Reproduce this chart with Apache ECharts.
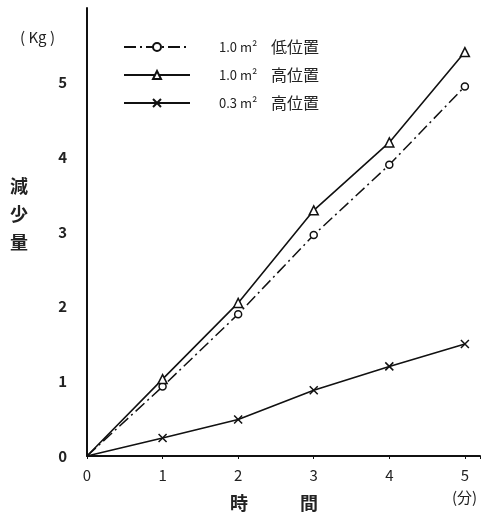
<!DOCTYPE html>
<html>
<head>
    <meta charset="utf-8">
    <title>減少量</title>
    <script src="https://cdn.jsdelivr.net/npm/echarts@6/dist/echarts.min.js"></script>
    <style>
        html, body { margin: 0; padding: 0; background: #fff; }
        #chart { width: 489px; height: 519px; }
    </style>
</head>
<body>
<div id="chart"></div>
<script>
    // 時間（分）
    var times = [0, 1, 2, 3, 4, 5];
    // 減少量（Kg）
    var low10 = [0, 0.93, 1.9, 2.96, 3.9, 4.95];   // 1.0m2 低位置
    var high10 = [0, 1.03, 2.05, 3.29, 4.2, 5.41]; // 1.0m2 高位置
    var high03 = [0, 0.24, 0.49, 0.88, 1.2, 1.5];  // 0.3m2 高位置
    var names = ['1.0 m² 低位置', '1.0 m² 高位置', '0.3 m² 高位置'];
    var yTicks = [0, 1, 2, 3, 4, 5];

    var cross = 'path://M0,0L10,10M10,0L0,10';

    function pts(ys) {
        return times.map(function (t, i) {
            var p = { value: [t, ys[i]] };
            if (t === 0) p.symbol = 'none';
            return p;
        });
    }

    var chart = echarts.init(document.getElementById('chart'));
    var font = '"Noto Sans CJK JP", "Noto Sans", sans-serif';

    chart.setOption({
        animation: false,
        textStyle: { fontFamily: font },
        grid: { left: 87, right: 9, top: 8, bottom: 63 },
        legend: {
            orient: 'vertical',
            left: 118, top: 34,
            itemWidth: 66, itemHeight: 10, itemGap: 12,
            textStyle: {
                color: '#222', padding: [0, 0, 0, 24],
                rich: {
                    n: { fontSize: 13, color: '#222', width: 52 },
                    c: { fontSize: 16, color: '#222' }
                }
            },
            formatter: function (name) {
                var k = name.lastIndexOf(' ');
                return '{n|' + name.slice(0, k) + '}{c|' + name.slice(k + 1) + '}';
            },
            data: names
        },
        xAxis: {
            type: 'value', min: 0, max: 5.2, interval: 1,
            axisLine: { lineStyle: { color: '#111', width: 2 } },
            axisTick: { show: true, inside: false, length: 3, lineStyle: { color: '#111' } },
            splitLine: { show: false },
            axisLabel: {
                margin: 12, fontSize: 15, color: '#222',
                formatter: function (v) { return times.indexOf(v) >= 0 ? String(v) : ''; }
            }
        },
        yAxis: {
            type: 'value', min: 0, max: 6, interval: 1,
            axisLine: { show: true, lineStyle: { color: '#111', width: 2 } },
            axisTick: { show: false },
            splitLine: { show: false },
            axisLabel: {
                margin: 20, fontSize: 15, color: '#222', fontWeight: 'bold',
                formatter: function (v) { return yTicks.indexOf(v) >= 0 ? String(v) : ''; }
            }
        },
        series: [
            {
                name: names[0], type: 'line', data: pts(low10),
                symbol: 'circle', symbolSize: 7,
                itemStyle: { color: '#fff', borderColor: '#111', borderWidth: 1.5 },
                lineStyle: { color: '#111', width: 1.5, type: [12, 4, 2, 4] }
            },
            {
                name: names[1], type: 'line', data: pts(high10),
                symbol: 'triangle', symbolSize: 9,
                itemStyle: { color: '#fff', borderColor: '#111', borderWidth: 1.5 },
                lineStyle: { color: '#111', width: 1.6 }
            },
            {
                name: names[2], type: 'line', data: pts(high03),
                symbol: cross, symbolSize: 8,
                itemStyle: { color: 'none', borderColor: '#111', borderWidth: 1.5 },
                lineStyle: { color: '#111', width: 1.6 }
            }
        ],
        graphic: [
            { type: 'text', left: 20, top: 30, style: { text: '( Kg )', fontSize: 15, fill: '#222', fontFamily: font } },
            { type: 'text', left: 10, top: 172, style: { text: '減\n少\n量', fontSize: 18, lineHeight: 28, fill: '#222', fontFamily: font, fontWeight: 'bold' } },
            { type: 'text', left: 230, top: 494, style: { text: '時', fontSize: 18, fill: '#222', fontFamily: font, fontWeight: 'bold' } },
            { type: 'text', left: 300, top: 494, style: { text: '間', fontSize: 18, fill: '#222', fontFamily: font, fontWeight: 'bold' } },
            { type: 'text', left: 452, top: 490, style: { text: '(分)', fontSize: 15, fill: '#222', fontFamily: font } }
        ]
    });
</script>
</body>
</html>
